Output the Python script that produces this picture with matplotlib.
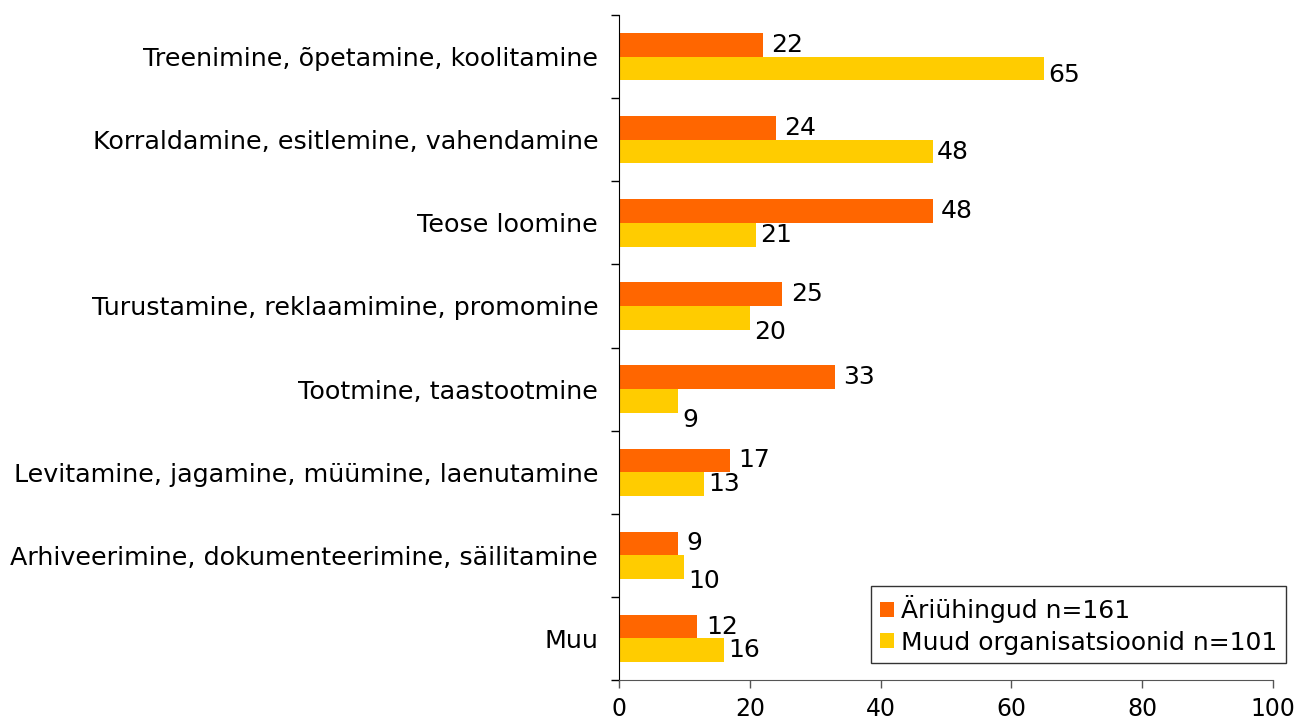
import matplotlib.pyplot as plt
import numpy as np

# andmed
kategooriad = ["Treenimine, õpetamine, koolitamine",
               "Korraldamine, esitlemine, vahendamine",
               "Teose loomine",
               "Turustamine, reklaamimine, promomine",
               "Tootmine, taastootmine",
               "Levitamine, jagamine, müümine, laenutamine",
               "Arhiveerimine, dokumenteerimine, säilitamine",
               "Muu"]
ariuhingud = [22, 24, 48, 25, 33, 17, 9, 12]
muud_org = [65, 48, 21, 20, 9, 13, 10, 16]

oranz = "#FF6600"
kollane = "#FFCC00"

# kollaste siltide nihe allapoole (punktides), nagu Excelis
nihe = {0: -5, 3: -10, 4: -14, 6: -10}

fig = plt.figure(figsize=(12.98, 7.2), dpi=100)
ax = fig.add_axes([0.4769, 0.0556, 0.9807 - 0.4769, 0.979 - 0.0556])

n = len(kategooriad)
y = np.arange(n)
h = 0.285
ax.barh(y - h / 2, ariuhingud, height=h, color=oranz, label="Äriühingud n=161")
ax.barh(y + h / 2, muud_org, height=h, color=kollane, label="Muud organisatsioonid n=101")

for i in range(n):
    ax.annotate(str(ariuhingud[i]), (ariuhingud[i], y[i] - h / 2), xytext=(6, 0),
                textcoords="offset points", va="center", ha="left", fontsize=18)
    ax.annotate(str(muud_org[i]), (muud_org[i], y[i] + h / 2), xytext=(3, nihe.get(i, 0)),
                textcoords="offset points", va="center", ha="left", fontsize=18)

ax.set_xlim(0, 100)
ax.set_ylim(n - 0.5, -0.5)
ax.set_xticks([0, 20, 40, 60, 80, 100])
ax.tick_params(axis="x", labelsize=17, length=6, width=1, color="#555555", pad=6)

ax.set_yticks(y)
ax.set_yticklabels(kategooriad)
ax.set_yticks(np.arange(n + 1) - 0.5, minor=True)
ax.tick_params(axis="y", which="major", length=0, labelsize=18.3, pad=15)
ax.tick_params(axis="y", which="minor", length=6, width=1)

ax.spines["top"].set_visible(False)
ax.spines["right"].set_visible(False)
ax.spines["bottom"].set_color("#555555")

ax.legend(loc="lower right", bbox_to_anchor=(1.02, 0.025), fontsize=18, frameon=True,
          fancybox=False, edgecolor="#333333", handlelength=0.55, handleheight=0.55,
          handletextpad=0.3, borderpad=0.35, labelspacing=0.3, borderaxespad=0,
          framealpha=1)

fig.savefig("out.png", dpi=100)
